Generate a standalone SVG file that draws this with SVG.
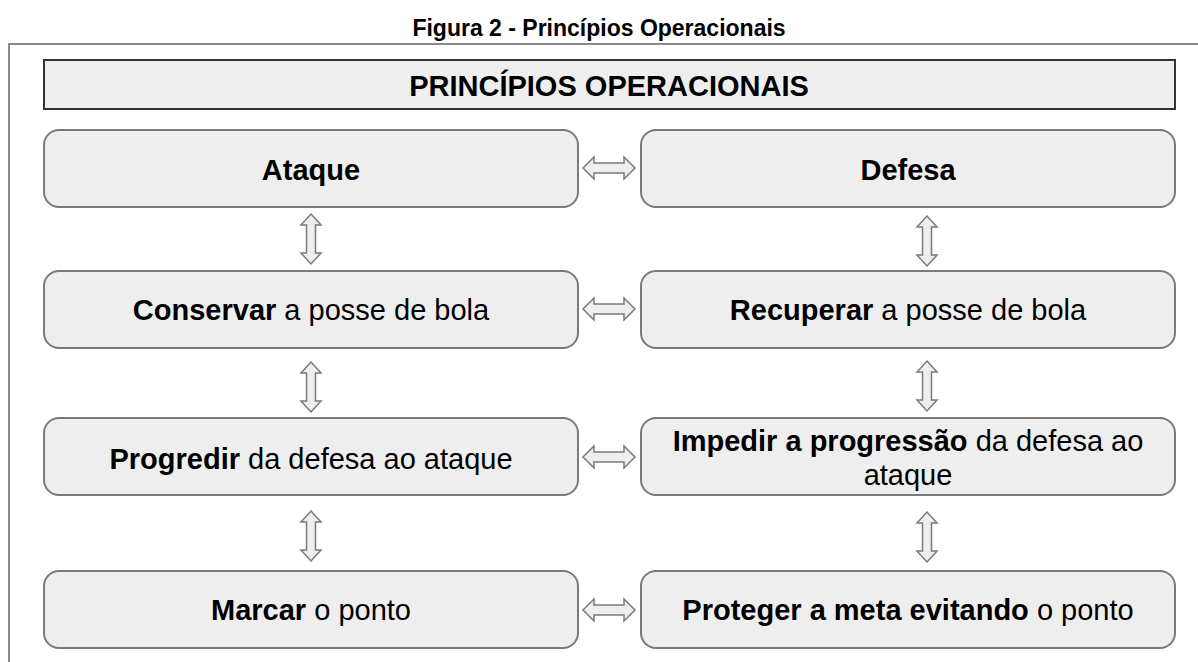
<svg xmlns="http://www.w3.org/2000/svg" xmlns:xlink="http://www.w3.org/1999/xlink" width="1198" height="662" viewBox="0 0 1198 662">
<style>
text{font-family:"Liberation Sans",Arial,sans-serif;fill:#000;}
.cap{font-size:23px;font-weight:bold;text-anchor:middle;}
.hd{font-size:29px;font-weight:bold;text-anchor:middle;}
.t{font-size:29px;text-anchor:middle;}
.b{font-weight:bold;}
.node{fill:#eeeeee;stroke:#7a7a7a;stroke-width:2;}
.arr{fill:#eeeeee;stroke:#7a7a7a;stroke-width:1.5;stroke-linejoin:miter;}
</style>
<defs>
<path id="ha" d="M0,0 L11,-11 L11,-5 L41,-5 L41,-11 L52,0 L41,11 L41,5 L11,5 L11,11 Z"/>
<path id="va" d="M0,0 L10,11 L4.5,11 L4.5,39 L10,39 L0,50 L-10,39 L-4.5,39 L-4.5,11 L-10,11 Z"/>
</defs>
<rect width="1198" height="662" fill="#fff"/>
<text class="cap" x="599" y="36">Figura 2 - Princípios Operacionais</text>
<path d="M9,662 L9,44 L1198,44" fill="none" stroke="#8a8a8a" stroke-width="2"/>
<g id="title">
<rect x="44" y="60" width="1131" height="49" fill="#eeeeee" stroke="#333" stroke-width="2"/>
<text class="hd" x="609" y="96">PRINCÍPIOS OPERACIONAIS</text>
</g>
<g id="ataque">
<rect class="node" x="44" y="130" width="534" height="77" rx="15"/>
<text class="t b" x="311" y="180">Ataque</text>
</g>
<g id="defesa">
<rect class="node" x="641" y="130" width="534" height="77" rx="15"/>
<text class="t b" x="908" y="180">Defesa</text>
</g>
<g id="conservar">
<rect class="node" x="44" y="271" width="534" height="77" rx="15"/>
<text class="t" x="311" y="320"><tspan class="b">Conservar</tspan> a posse de bola</text>
</g>
<g id="recuperar">
<rect class="node" x="641" y="271" width="534" height="77" rx="15"/>
<text class="t" x="908" y="320"><tspan class="b">Recuperar</tspan> a posse de bola</text>
</g>
<g id="progredir">
<rect class="node" x="44" y="418" width="534" height="77" rx="15"/>
<text class="t" x="311" y="469"><tspan class="b">Progredir</tspan> da defesa ao ataque</text>
</g>
<g id="impedir">
<rect class="node" x="641" y="418" width="534" height="77" rx="15"/>
<text class="t" x="908" y="451"><tspan class="b">Impedir a progressão</tspan> da defesa ao</text>
<text class="t" x="908" y="485">ataque</text>
</g>
<g id="marcar">
<rect class="node" x="44" y="571" width="534" height="77" rx="15"/>
<text class="t" x="311" y="620"><tspan class="b">Marcar</tspan> o ponto</text>
</g>
<g id="proteger">
<rect class="node" x="641" y="571" width="534" height="77" rx="15"/>
<text class="t" x="908" y="620"><tspan class="b">Proteger a meta evitando</tspan> o ponto</text>
</g>
<g id="connectors">
<use xlink:href="#ha" class="arr" x="583" y="168"/>
<use xlink:href="#ha" class="arr" x="583" y="309"/>
<use xlink:href="#ha" class="arr" x="583" y="457"/>
<use xlink:href="#ha" class="arr" x="583" y="610"/>
<use xlink:href="#va" class="arr" x="311" y="214"/>
<use xlink:href="#va" class="arr" x="311" y="362"/>
<use xlink:href="#va" class="arr" x="311" y="511"/>
<use xlink:href="#va" class="arr" x="927" y="216"/>
<use xlink:href="#va" class="arr" x="927" y="361"/>
<use xlink:href="#va" class="arr" x="927" y="512"/>
</g>
</svg>
